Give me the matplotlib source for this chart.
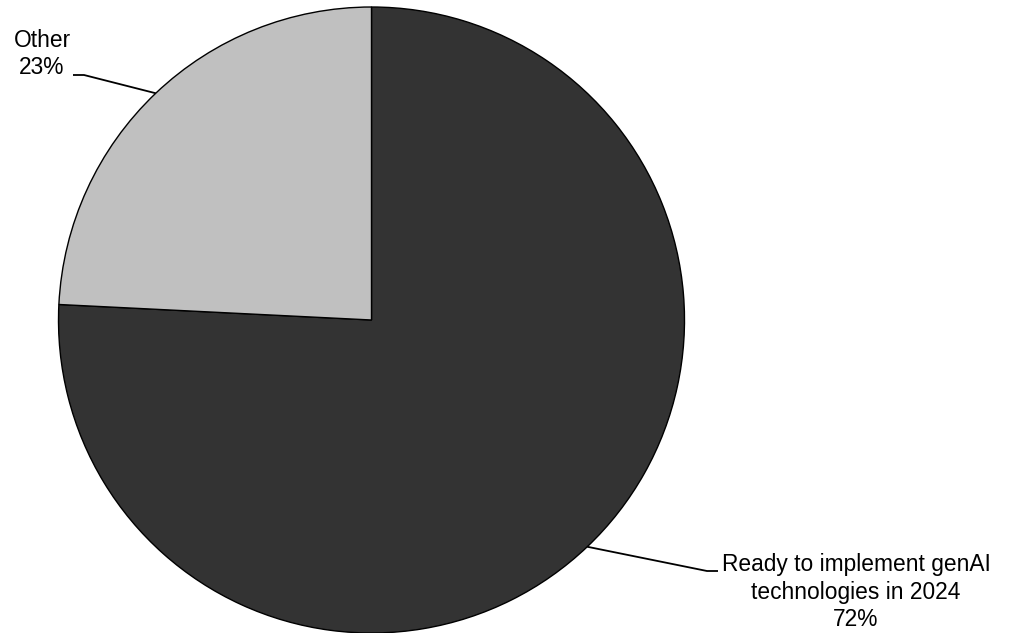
import numpy as np
import matplotlib.pyplot as plt

# Data
labels = ["Ready to implement genAI\ntechnologies in 2024", "Other"]
values = [72, 23]
colors = ["#333333", "#c0c0c0"]

W, H = 1022, 633
plt.rcParams['font.family'] = ['Liberation Sans', 'DejaVu Sans']

fig = plt.figure(figsize=(W / 100, H / 100), dpi=100)
ax = fig.add_axes([0, 0, 1, 1])

# pie geometry in pixel coords (y flipped)
cx, cy, r = 371.5, H - 320, 313
wedges, _ = ax.pie(values, colors=colors, startangle=90, counterclock=False,
                   center=(cx, cy), radius=r, frame=True,
                   wedgeprops=dict(edgecolor='black', linewidth=1.0))
ax.set_xlim(0, W)
ax.set_ylim(0, H)
ax.set_aspect('equal')
ax.axis('off')

# label placement: text center, elbow, line end (pixel coords)
label_pos = {
    0: dict(text=(856, 592), elbow=(707, 571), end=(718, 571)),
    1: dict(text=(42, 54), elbow=(84, 75), end=(73, 75)),
}

for i, w in enumerate(wedges):
    mid = np.deg2rad((w.theta1 + w.theta2) / 2)
    ex, ey = cx + r * np.cos(mid), cy + r * np.sin(mid)
    p = label_pos[i]
    xs = [ex, p['elbow'][0], p['end'][0]]
    ys = [ey, H - p['elbow'][1], H - p['end'][1]]
    ax.plot(xs, ys, color='black', lw=1.3, solid_capstyle='butt')
    ax.text(p['text'][0], H - p['text'][1], f"{labels[i]}\n{values[i]}%",
            ha='center', va='center', fontsize=16.4, color='black',
            linespacing=1.24)

fig.savefig("out.png", dpi=100)
